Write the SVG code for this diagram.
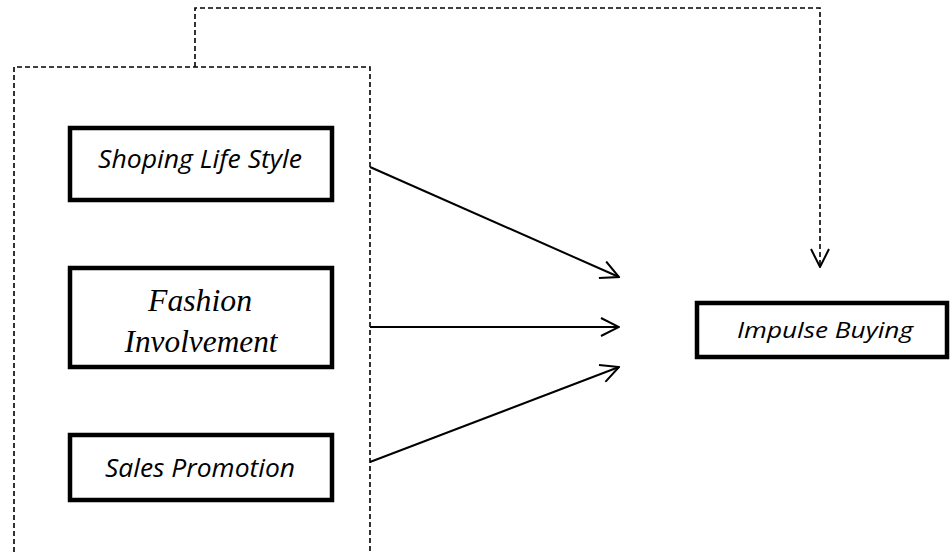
<svg xmlns="http://www.w3.org/2000/svg" width="952" height="553" viewBox="0 0 952 553">
<defs>
<style>
.box{fill:#fff;stroke:#000;stroke-width:4.5}
.dash{fill:none;stroke:#000;stroke-width:1.6;stroke-dasharray:5,3}
.arr{fill:none;stroke:#000;stroke-width:2}
.sans{font-family:"Open Sans","Liberation Sans",sans-serif;font-style:italic;fill:#000;text-anchor:middle}
.serif{font-family:"Liberation Serif","Times New Roman",serif;font-style:italic;font-size:31px;fill:#000;text-anchor:middle}
</style>
<marker id="open" viewBox="0 0 20 20" refX="19" refY="10" markerWidth="20" markerHeight="20" markerUnits="userSpaceOnUse" orient="auto">
<path d="M1,1 L19,10 L1,19" fill="none" stroke="#000" stroke-width="2"/>
</marker>
</defs>
<g id="group-box">
<path class="dash" d="M14,560 L14,67 L370,67 L370,560"/>
</g>
<g id="connectors">
<path class="dash" d="M195,67 L195,8 L820,8 L820,267" marker-end="url(#open)"/>
<line class="arr" x1="370" y1="167" x2="619" y2="277" marker-end="url(#open)"/>
<line class="arr" x1="370" y1="327" x2="619" y2="327" marker-end="url(#open)"/>
<line class="arr" x1="370" y1="462" x2="619" y2="367" marker-end="url(#open)"/>
</g>
<g id="shoping">
<rect class="box" x="70" y="128" width="262" height="72"/>
<text class="sans" x="200" y="168" font-size="25" textLength="204" lengthAdjust="spacingAndGlyphs">Shoping Life Style</text>
</g>
<g id="fashion">
<rect class="box" x="70" y="268" width="262" height="99"/>
<text class="serif" x="200" y="311" textLength="104" lengthAdjust="spacingAndGlyphs">Fashion</text>
<text class="serif" x="201" y="352" textLength="153" lengthAdjust="spacingAndGlyphs">Involvement</text>
</g>
<g id="sales">
<rect class="box" x="70" y="435" width="262" height="65"/>
<text class="sans" x="200" y="477" font-size="25" textLength="190" lengthAdjust="spacingAndGlyphs">Sales Promotion</text>
</g>
<g id="impulse">
<rect class="box" x="697" y="303" width="250" height="54"/>
<text class="sans" x="825" y="338" font-size="22" textLength="176" lengthAdjust="spacingAndGlyphs">Impulse Buying</text>
</g>
</svg>
